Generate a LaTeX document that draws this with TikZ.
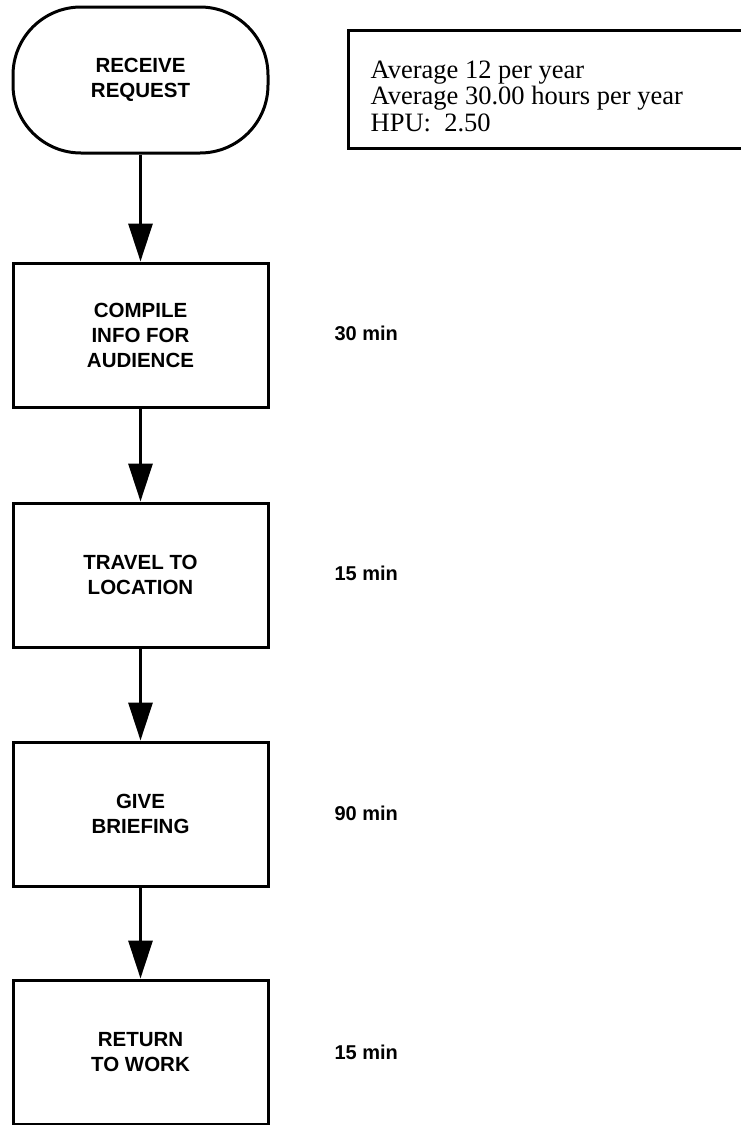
\documentclass[tikz,border=0pt]{standalone}
\usepackage{fontspec}
\setmainfont{Liberation Serif}
\setsansfont{Liberation Sans}
\usetikzlibrary{positioning, arrows.meta}
\tikzset{stepbox/.style = {rectangle,draw,line width=3pt,minimum width=255pt,minimum height=144pt,align=center,
                           font=\sffamily\bfseries\fontsize{20.5}{25}\selectfont},
         startbox/.style = {stepbox,rounded corners=68pt,minimum height=146pt},
         timelabel/.style = {anchor=west,font=\sffamily\bfseries\fontsize{20}{24}\selectfont},
         flow/.style = {line width=3pt,-{Triangle[width=24pt,length=38pt]}}}

\begin{document}
\begin{tikzpicture}[x=1pt, y=-1pt]
            \useasboundingbox (0,0) rectangle (740,1125);

            \node[startbox] (R) at (140.5,  80)  {RECEIVE\\REQUEST};
            \node[stepbox]  (C) at (140.5, 335)  {COMPILE\\INFO FOR\\AUDIENCE};
            \node[stepbox]  (T) at (140.5, 575)  {TRAVEL TO\\LOCATION};
            \node[stepbox]  (G) at (140.5, 814)  {GIVE\\BRIEFING};
            \node[stepbox]  (W) at (140.5,1052)  {RETURN\\TO WORK};

            \node[timelabel] (tC) at (331, 333)  {30 min};
            \node[timelabel] (tT) at (331, 573)  {15 min};
            \node[timelabel] (tG) at (331, 813)  {90 min};
            \node[timelabel] (tW) at (331,1052)  {15 min};

            \node[draw,line width=3pt,minimum width=394pt,minimum height=118pt] (info) at (545,89) {};
            \node[anchor=west,align=left,inner sep=0pt,font=\fontsize{26.5}{26.5}\selectfont] (infotext)
                at ([xshift=24pt,yshift=-7pt]info.west)
                {Average 12 per year\\Average 30.00 hours per year\\HPU:\ \ 2.50};

            \draw[flow] (R) -- (C);
            \draw[flow] (C) -- (T);
            \draw[flow] (T) -- (G);
            \draw[flow] (G) -- (W);
        \end{tikzpicture}
\end{document}
